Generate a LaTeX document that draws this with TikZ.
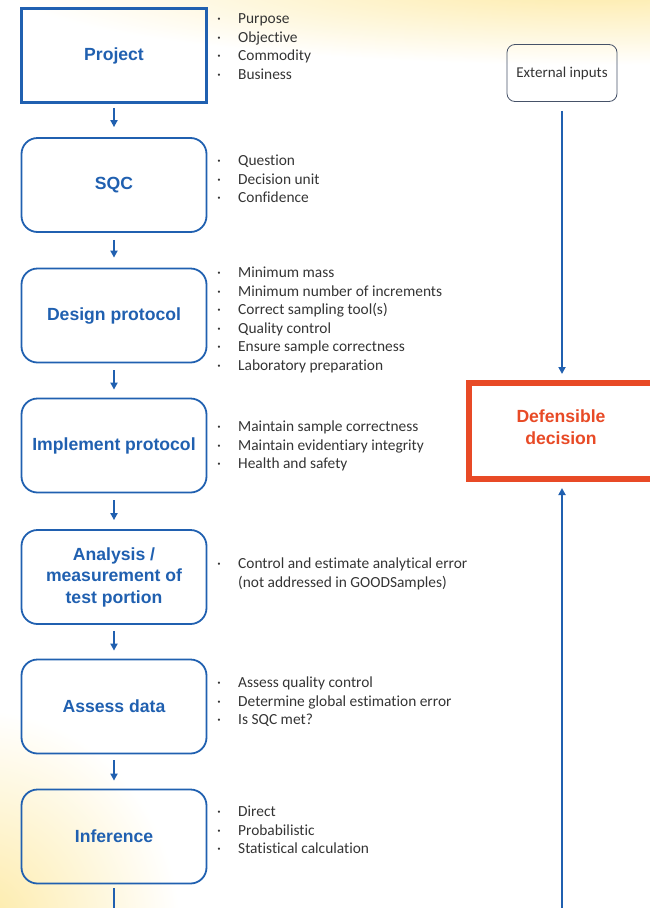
\documentclass[tikz,border=0pt]{standalone}
\usepackage{fontspec}
\setmainfont{Carlito}[Ligatures=NoCommon]
\newfontfamily\headfont{Liberation Sans}
\usetikzlibrary{arrows.meta}
\definecolor{sqblue}{RGB}{32,96,176}
\definecolor{sqred}{RGB}{232,74,38}
\definecolor{sqtext}{RGB}{52,52,52}
\definecolor{sqframe}{RGB}{70,82,104}
\definecolor{glow}{RGB}{253,234,165}
\newcommand{\dotitem}{\makebox[21pt][l]{·}}
\tikzset{
  stage/.style={draw=sqblue, line width=1.8pt, rounded corners=16pt, minimum width=185pt, minimum height=94pt, inner sep=0pt, align=center, text=sqblue, font=\headfont\bfseries\fontsize{17.6}{21.5}\selectfont},
  notes/.style={anchor=base west, inner sep=0pt, align=left, text=sqtext, font=\fontsize{15.4}{18.5}\selectfont},
  flow/.style={sqblue, line width=1.8pt, -{Triangle[length=7pt,width=7pt]}},
}
\begin{document}
\begin{tikzpicture}[x=1pt,y=-1pt]
\useasboundingbox (0,0) rectangle (650,908);
\begin{scope}
\clip (0,0) rectangle (650,908);
\shade[inner color=glow, outer color=white] (600,-15) ellipse (600 and 80);
\shade[inner color=glow, outer color=white] (-20,930) ellipse (200 and 220);
\end{scope}
% left column
\node[stage, rounded corners=0pt, line width=2.8pt] (project) at (114,55.5) {Project};
\node[stage] (sqc) at (114,185) {SQC};
\node[stage] (design) at (114,315.5) {Design protocol};
\node[stage] (implement) at (114,445.5) {Implement protocol};
\node[stage] (analysis) at (114,577) {Analysis /\\measurement of\\test portion};
\node[stage] (assess) at (114,706.5) {Assess data};
\node[stage] (inference) at (114,836.5) {Inference};
\draw[flow, shorten <=4pt, shorten >=10pt] (project.south) -- (sqc.north);
\draw[flow, shorten <=7pt, shorten >=10pt] (sqc.south) -- (design.north);
\draw[flow, shorten <=7pt, shorten >=8pt] (design.south) -- (implement.north);
\draw[flow, shorten <=7pt, shorten >=9pt] (implement.south) -- (analysis.north);
\draw[flow, shorten <=6pt, shorten >=8pt] (analysis.south) -- (assess.north);
\draw[flow, shorten <=6pt, shorten >=8pt] (assess.south) -- (inference.north);
% bullet lists (placed at the baseline of their last line)
\node[notes] (projectnotes) at (217,79) {\dotitem Purpose\\ \dotitem Objective\\ \dotitem Commodity\\ \dotitem Business};
\node[notes] (sqcnotes) at (217,202.5) {\dotitem Question\\ \dotitem Decision unit\\ \dotitem Confidence};
\node[notes] (designnotes) at (217,370) {\dotitem Minimum mass\\ \dotitem Minimum number of increments\\ \dotitem Correct sampling tool(s)\\ \dotitem Quality control\\ \dotitem Ensure sample correctness\\ \dotitem Laboratory preparation};
\node[notes] (implementnotes) at (217,468.5) {\dotitem Maintain sample correctness\\ \dotitem Maintain evidentiary integrity\\ \dotitem Health and safety};
\node[notes] (analysisnotes) at (217,587) {\dotitem Control and estimate analytical error\\ \makebox[21pt]{}(not addressed in GOODSamples)};
\node[notes] (assessnotes) at (217,724.5) {\dotitem Assess quality control\\ \dotitem Determine global estimation error\\ \dotitem Is SQC met?};
\node[notes] (inferencenotes) at (217,853.5) {\dotitem Direct\\ \dotitem Probabilistic\\ \dotitem Statistical calculation};
% right column
\node[draw=sqframe, line width=0.8pt, rounded corners=8pt, minimum width=110pt, minimum height=57pt, text=sqtext, font=\fontsize{15}{18}\selectfont] (extern) at (562,73) {External inputs};
\node[draw=sqred, line width=6pt, minimum width=185pt, minimum height=96pt, text depth=8pt, align=center, text=sqred, font=\headfont\bfseries\fontsize{17.6}{22}\selectfont] (decision) at (561,431) {Defensible\\decision};
\draw[flow, line width=2pt, shorten <=9pt, shorten >=6pt] (extern.south) -- (extern.south |- decision.north);
\coordinate (leftend) at (114,910);
\coordinate (rightend) at (562,910);
\draw[sqblue, line width=1.8pt, shorten <=4pt] (inference.south) -- (leftend);
\draw[flow, line width=2pt, shorten >=6pt] (rightend) -- (rightend |- decision.south);
\end{tikzpicture}
\end{document}
